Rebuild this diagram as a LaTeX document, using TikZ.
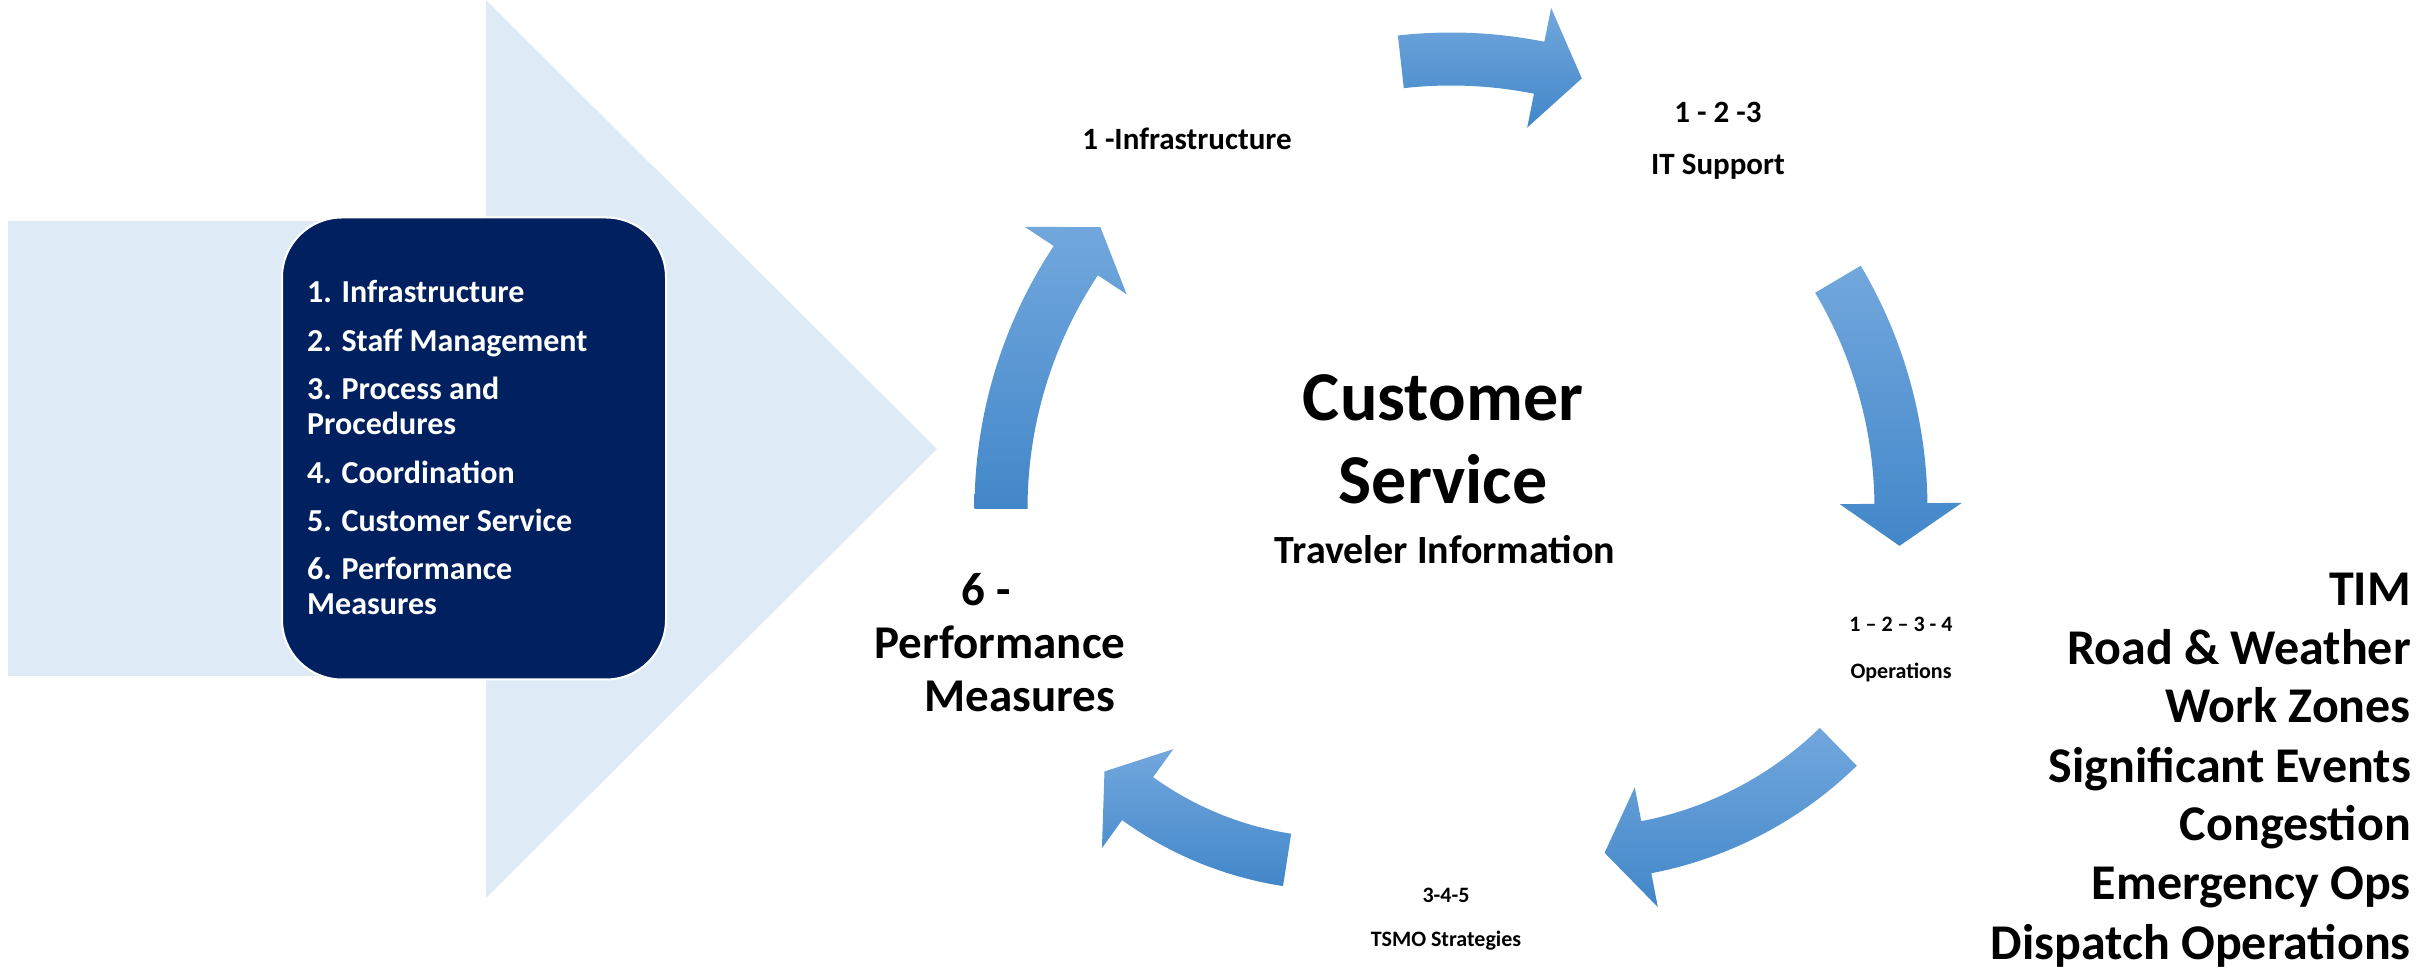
\documentclass[tikz,border=0pt]{standalone}
\usepackage{fontspec}
\setmainfont{Carlito}
\usepackage{tikz}
\usetikzlibrary{positioning}

\definecolor{paleblue}{HTML}{DEEBF7}
\definecolor{navy}{HTML}{002060}
\definecolor{cyctop}{RGB}{114,167,221}
\definecolor{cycmid}{RGB}{88,157,219}
\definecolor{cycbot}{RGB}{66,135,201}

\begin{document}
\begin{tikzpicture}[
  x = 1pt, y = 1pt,
  cyc/.style = {top color=cyctop, middle color=cycmid, bottom color=cycbot},
  navybox/.style = {rectangle, rounded corners=60pt, fill=navy, draw=white,
                    line width=2pt, minimum width=384pt, minimum height=462pt},
  item/.style = {text=white, align=left, inner sep=0pt,
                 font=\fontsize{32}{35}\selectfont\bfseries},
  lbl/.style = {align=center, inner sep=0pt,
                font=\fontsize{31}{37}\selectfont\bfseries},
  small/.style = {align=center, inner sep=0pt,
                  font=\fontsize{22}{27}\selectfont\bfseries},
  perfm/.style = {align=center, inner sep=0pt,
                  font=\fontsize{47}{53}\selectfont\bfseries},
  big/.style = {align=center, inner sep=0pt,
                font=\fontsize{70}{83}\selectfont\bfseries},
  sub/.style = {inner sep=0pt, font=\fontsize{40}{48}\selectfont\bfseries},
  focus/.style = {align=right, inner sep=0pt,
                  font=\fontsize{50}{59}\selectfont\bfseries}
]
\useasboundingbox (0,0) rectangle (2420,972);

% background arrow
\fill[paleblue] (8,296) -- (486,296) -- (486,74) -- (937,523) -- (486,972)
  -- (486,751) -- (8,751) -- cycle;

% six areas
\node[navybox] (box) at (474,523.5) {};
\node[item, anchor=base west] (areas) at (307,357) {1. Infrastructure\\[13.4pt]%
2. Staff Management\\[13.4pt]%
3. Process and\\Procedures\\[13.4pt]%
4. Coordination\\[13.4pt]%
5. Customer Service\\[13.4pt]%
6. Performance\\Measures};

% cycle arrows
\shade[cyc, shift={(1451,463)}] (96.4:476.5) arc[start angle=96.4, end angle=78.7, radius=476.5]
  -- (78.7:511) -- (73.1:450) -- (78.7:389) -- (78.7:423.5)
  arc[start angle=78.7, end angle=96.4, radius=423.5] -- cycle;
\shade[cyc, shift={(1451,463)}] (30.7:476.5) arc[start angle=30.7, end angle=0.7, radius=476.5]
  -- (0.7:511) -- (-4.7:450) -- (0.7:389) -- (0.7:423.5)
  arc[start angle=0.7, end angle=30.7, radius=423.5] -- cycle;
\shade[cyc, shift={(1575,495)}] (-45.7:403.5) arc[start angle=-45.7, end angle=-79.1, radius=403.5]
  -- (-79.1:438) -- (-85.5:377) -- (-79.1:316) -- (-79.1:350.5)
  arc[start angle=-79.1, end angle=-45.7, radius=350.5] -- cycle;
\shade[cyc, shift={(1340,454)}] (-98.8:372.5) arc[start angle=-98.8, end angle=-125.8, radius=372.5]
  -- (-125.8:407) -- (-132.9:346) -- (-125.8:285) -- (-125.8:319.5)
  arc[start angle=-125.8, end angle=-98.8, radius=319.5] -- cycle;
\shade[cyc, shift={(1451,463)}] (180:476.5) arc[start angle=180, end angle=146.5, radius=476.5]
  -- (146.5:511) -- (141.2:450) -- (146.5:389) -- (146.5:423.5)
  arc[start angle=146.5, end angle=180, radius=423.5] -- cycle;

% cycle labels
\node[lbl, anchor=base] (infra) at (1187,822) {1 -Infrastructure};
\node[lbl, anchor=base] (itsup) at (1718,797) {1 - 2 -3\\[15pt]IT Support};
\node[small, anchor=base] (ops) at (1901,293) {1 – 2 – 3 - 4\\[20pt]Operations};
\node[small, anchor=base] (tsmo) at (1446,26) {3-4-5\\[17pt]TSMO Strategies};
\node[perfm, anchor=base] (perf) at (1000,260)
  {6 -\hspace*{28pt}\\Performance\\\hspace*{40pt}Measures};

% centre
\node[big, anchor=base] (cs) at (1443,468) {Customer\\Service};
\node[sub, anchor=base] (trav) at (1445,408) {Traveler Information};

% operations list
\node[focus, anchor=base east] (oplist) at (2411,13) {TIM\\Road \& Weather\\Work Zones\\%
Significant Events\\Congestion\\Emergency Ops\\Dispatch Operations};
\end{tikzpicture}
\end{document}
